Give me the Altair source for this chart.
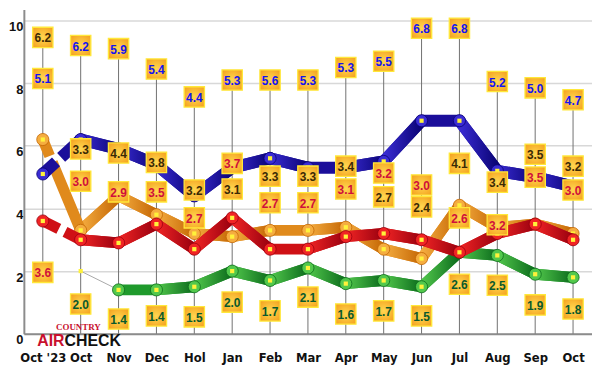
import json
import altair as alt
import pandas as pd

# ---------------- data ----------------
months = ["Oct '23", "Oct", "Nov", "Dec", "Hol", "Jan", "Feb", "Mar", "Apr",
          "May", "Jun", "Jul", "Aug", "Sep", "Oct"]

blue = [5.1, 6.2, 5.9, 5.4, 4.4, 5.3, 5.6, 5.3, 5.3, 5.5, 6.8, 6.8, 5.2, 5.0, 4.7]
orange = [6.2, 3.3, 4.4, 3.8, 3.2, 3.1, 3.3, 3.3, 3.4, 2.7, 2.4, 4.1, 3.4, 3.5, 3.2]
red = [3.6, 3.0, 2.9, 3.5, 2.7, 3.7, 2.7, 2.7, 3.1, 3.2, 3.0, 2.6, 3.2, 3.5, 3.0]
green = [None, 2.0, 1.4, 1.4, 1.5, 2.0, 1.7, 2.1, 1.6, 1.7, 1.5, 2.6, 2.5, 1.9, 1.8]

# where each value box sits (chart units)
blue_lab = [8.15, 9.2, 9.1, 8.45, 7.56, 8.1, 8.1, 8.1, 8.5, 8.7, 9.75, 9.75, 8.05, 7.85, 7.47]
orange_lab = [9.46, 5.9, 5.77, 5.47, 4.59, 4.62, 5.03, 5.03, 5.35, 4.37, 4.05, 5.44, 4.84, 5.73, 5.35]
red_lab = [1.96, 4.87, 4.53, 4.53, 3.7, 5.44, 4.18, 4.18, 4.62, 5.13, 4.75, 3.7, 3.48, 5.0, 4.59]
green_lab = [None, 0.95, 0.47, 0.57, 0.54, 1.01, 0.73, 1.17, 0.63, 0.73, 0.57, 1.58, 1.55, 0.92, 0.79]

y_ticks = [0, 2, 4, 6, 8, 10]

# ---------------- styling ----------------
series = [
    dict(name="green", vals=green, labs=green_lab, light="#52c84c", dark="#0b6a1c",
         mid="#1f9a2c", text="#0a5a2c", width=11, start=2),
    dict(name="orange", vals=orange, labs=orange_lab, light="#f5ad40", dark="#c46604",
         mid="#e08a1c", text="#3b2a05", width=11, start=1),
    dict(name="red", vals=red, labs=red_lab, light="#f02424", dark="#98000f",
         mid="#cf1015", text="#d0103a", width=11, start=1),
    dict(name="blue", vals=blue, labs=blue_lab, light="#3a2cd4", dark="#0a0374",
         mid="#1b0e9a", text="#1414f0", width=12, start=1),
]

W, H = 573, 327
xdom = [-0.5, 14.5]
ydom = [0, 10.35]
LAB_FONT = "DejaVu Sans Condensed"

xaxis = alt.Axis(values=list(range(15)), labelExpr=json.dumps(months) + "[datum.value]",
                 labelFont=LAB_FONT, labelFontSize=13, labelFontWeight="bold",
                 labelColor="#111111", ticks=False, grid=False, domainColor="#8c8c8c",
                 domainWidth=2, labelPadding=18, title=None)
yaxis = alt.Axis(values=y_ticks, grid=True, gridColor="#d8d8d8", gridWidth=1.5, ticks=False,
                 domainColor="#8c8c8c", domainWidth=2, labelFont="Liberation Sans",
                 labelFontSize=13, labelFontWeight="bold", labelColor="#111111",
                 labelPadding=1, labelOffset=6, title=None)


def X(field="i"):
    return alt.X(f"{field}:Q", scale=alt.Scale(domain=xdom, nice=False, zero=False), axis=xaxis)


def Y(field="v"):
    return alt.Y(f"{field}:Q", scale=alt.Scale(domain=ydom, nice=False), axis=yaxis)


# ---------------- tables ----------------
rule_rows = []
for i in range(15):
    labs = [s["labs"][i] for s in series if s["labs"][i] is not None]
    bottom = 0 if green[i] is not None else min(labs)
    rule_rows.append(dict(i=i, v=bottom, top=max(labs)))
rules_df = pd.DataFrame(rule_rows)

layers = []
layers.append(alt.Chart(rules_df).mark_rule(color="#707070", strokeWidth=1).encode(
    x=X(), y=Y(), y2=alt.Y2("top:Q")))

# thin connector green Oct -> Nov
conn_df = pd.DataFrame([dict(i=i, v=green[i]) for i in (1, 2)])
layers.append(alt.Chart(conn_df).mark_line(color="#a8a8a8", strokeWidth=1).encode(x=X(), y=Y()))

pt_rows, lab_rows = [], []
for s in series:
    vals = s["vals"]
    base_df = pd.DataFrame([dict(i=i, v=vals[i]) for i in range(s["start"], 15)])
    layers.append(alt.Chart(base_df).mark_line(
        color=s["mid"], strokeWidth=s["width"], strokeCap="round", strokeJoin="round"
    ).encode(x=X(), y=Y()))
    seg_rows = []
    for i in range(s["start"], 14):
        seg_rows.append(dict(seg=i, i=i, v=vals[i]))
        seg_rows.append(dict(seg=i, i=i + 1, v=vals[i + 1]))
    grad = alt.LinearGradient(gradient="linear", x1=0, x2=1, y1=0, y2=0,
                              stops=[alt.GradientStop(offset=0, color=s["light"]),
                                     alt.GradientStop(offset=1, color=s["dark"])])
    layers.append(alt.Chart(pd.DataFrame(seg_rows)).mark_line(
        stroke=grad, strokeWidth=s["width"], strokeCap="round", strokeJoin="round"
    ).encode(x=X(), y=Y(), detail="seg:N"))
    if vals[0] is not None:
        brk_df = pd.DataFrame([dict(i=i, v=vals[i]) for i in (0, 1)])
        layers.append(alt.Chart(brk_df).mark_line(
            color=s["mid"], strokeWidth=s["width"], strokeCap="butt", strokeDash=[18, 7, 600, 0]
        ).encode(x=X(), y=Y()))
    for i in range(15):
        if vals[i] is None:
            continue
        big = not (s["name"] == "green" and i == 1)
        pt_rows.append(dict(series=s["name"], i=i, v=vals[i], big=big))
        lab_rows.append(dict(series=s["name"], i=i, v=s["labs"][i], t=f"{vals[i]:.1f}"))

    circ_df = pd.DataFrame([r for r in pt_rows if r["series"] == s["name"] and r["big"]])
    layers.append(alt.Chart(circ_df).mark_circle(
        size=150, opacity=1, color=s["light"], stroke=s["dark"], strokeWidth=0.8
    ).encode(x=X(), y=Y()))
    sq_df = pd.DataFrame([r for r in pt_rows if r["series"] == s["name"]])
    layers.append(alt.Chart(sq_df).mark_square(size=18, opacity=1, color="#fff23a").encode(
        x=X(), y=Y()))

labs_df = pd.DataFrame(lab_rows)
box_fill = alt.RadialGradient(gradient="radial", x1=0.5, y1=0.5, r1=0, x2=0.5, y2=0.5, r2=0.7,
                              stops=[alt.GradientStop(offset=0, color="#ffd850"),
                                     alt.GradientStop(offset=1, color="#f49e1c")])
layers.append(alt.Chart(labs_df).mark_square(
    size=420, opacity=1, fill=box_fill, stroke="#ffe83a", strokeWidth=1.3
).encode(x=X(), y=Y()))
layers.append(alt.Chart(labs_df).mark_text(
    font="Liberation Sans", fontWeight="bold", fontSize=12, baseline="middle", dy=1
).encode(x=X(), y=Y(), text="t:N",
         color=alt.Color("series:N", legend=None,
                         scale=alt.Scale(domain=[s["name"] for s in series],
                                         range=[s["text"] for s in series]))))

# logo
logo = [
    ("COUNTRY", 55, 320, "center", "#c8102e", 9, "Liberation Serif", 900),
    ("AIR", 41, 334, "right", "#c8102e", 16, "Liberation Sans", 900),
    ("CHECK", 41, 334, "left", "#111111", 16, "Liberation Sans", 900),
]
for txt, px, py, al, col, fs, fnt, fw in logo:
    layers.append(alt.Chart(pd.DataFrame({"t": [txt]})).mark_text(
        align=al, baseline="middle", color=col, fontSize=fs, font=fnt, fontWeight=fw
    ).encode(x=alt.value(px), y=alt.value(py), text="t:N"))

chart = alt.layer(*layers).properties(
    width=W, height=H, padding=0, background="white"
).configure_view(stroke=None)

chart.save("out.html", embed_options={"renderer": "svg", "actions": False})
